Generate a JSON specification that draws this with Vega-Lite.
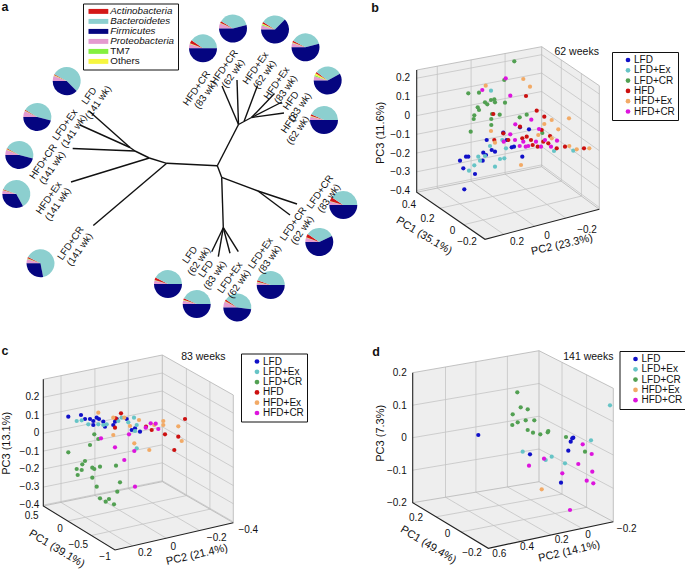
{
  "$schema": "https://vega.github.io/schema/vega-lite/v6.json",
  "width": 685,
  "height": 571,
  "padding": 0,
  "autosize": {"type": "none"},
  "background": "white",
  "config": {
    "view": {"stroke": null},
    "font": "Liberation Sans",
    "text": {"font": "Liberation Sans", "color": "#111111"},
    "legend": {
      "labelFont": "Liberation Sans",
      "labelFontSize": 10,
      "labelColor": "#111111",
      "padding": 3,
      "rowPadding": 0.3,
      "strokeColor": "#111111",
      "symbolStrokeWidth": 0
    }
  },
  "encoding": {
    "x": {"field": "x", "type": "quantitative", "scale": {"domain": [0, 685], "nice": false, "zero": false}, "axis": null},
    "y": {"field": "y", "type": "quantitative", "scale": {"domain": [0, 571], "nice": false, "zero": false, "reverse": true}, "axis": null}
  },
  "layer": [
    {
      "data": {"name": "panes"},
      "mark": {"type": "area", "color": "#eeeeee"},
      "encoding": {"y2": {"field": "y2"}, "detail": {"field": "id"}}
    },
    {
      "data": {"name": "grid"},
      "mark": {"type": "line", "color": "#c4c4c4", "strokeWidth": 0.8},
      "encoding": {"detail": {"field": "id"}, "order": {"field": "o"}}
    },
    {
      "data": {"name": "edges"},
      "mark": {"type": "line", "color": "#b4b4b4", "strokeWidth": 0.8},
      "encoding": {"detail": {"field": "id"}, "order": {"field": "o"}}
    },
    {
      "data": {"name": "axes"},
      "mark": {"type": "line", "color": "#222222", "strokeWidth": 1.1},
      "encoding": {"detail": {"field": "id"}, "order": {"field": "o"}}
    },
    {
      "data": {"name": "tree"},
      "mark": {"type": "rule", "color": "#111111", "strokeWidth": 1.4},
      "encoding": {"x2": {"field": "x2"}, "y2": {"field": "y2"}}
    },
    {
      "data": {"name": "comp"},
      "transform": [
        {"lookup": "pie", "from": {"data": {"name": "pies"}, "key": "pie", "fields": ["x", "y"]}},
        {"lookup": "phylum", "from": {"data": {"name": "phyla"}, "key": "phylum", "fields": ["ord"]}},
        {"stack": "frac", "groupby": ["pie"], "sort": [{"field": "ord", "order": "ascending"}], "offset": "normalize", "as": ["t0", "t1"]}
      ],
      "mark": {"type": "arc", "outerRadius": 14},
      "encoding": {
        "theta": {"field": "t0", "type": "quantitative", "stack": null, "scale": {"domain": [0, 1], "range": [4.712389, 10.995574]}},
        "theta2": {"field": "t1"},
        "color": {
          "field": "phylum",
          "type": "nominal",
          "scale": {
            "domain": ["Actinobacteria", "Bacteroidetes", "Firmicutes", "Proteobacteria", "TM7", "Others"],
            "range": ["#d41818", "#8ccfcf", "#050580", "#e49ad0", "#84f040", "#f6f640"]
          },
          "legend": {
            "orient": "none",
            "legendX": 83,
            "legendY": 3.5,
            "title": null,
            "symbolType": "M-2.2,-0.55H2.2V0.55H-2.2Z",
            "symbolSize": 81,
            "symbolOffset": 7.5,
            "labelOffset": 7,
            "labelFontSize": 9.8,
            "rowPadding": -1.9,
            "labelFontStyle": {"expr": "datum.label == 'TM7' || datum.label == 'Others' ? 'normal' : 'italic'"}
          }
        }
      }
    },
    {
      "data": {"name": "pts"},
      "transform": [{"filter": "datum.p == 'b'"}],
      "mark": {"type": "point", "filled": true, "size": 18, "opacity": 1},
      "encoding": {
        "color": {
          "field": "g",
          "type": "nominal",
          "scale": {"domain": ["LFD", "LFD+Ex", "LFD+CR", "HFD", "HFD+Ex", "HFD+CR"], "range": ["#1010c8", "#66c4c6", "#52a052", "#cc1010", "#f2aa66", "#dd14dd"]},
          "legend": {"orient": "none", "legendX": 612, "legendY": 52, "title": null, "symbolType": "circle", "symbolSize": 22, "symbolOffset": 8, "labelOffset": 1}
        }
      }
    },
    {
      "data": {"name": "pts"},
      "transform": [{"filter": "datum.p == 'c'"}],
      "mark": {"type": "point", "filled": true, "size": 18, "opacity": 1},
      "encoding": {
        "color": {
          "field": "g",
          "type": "nominal",
          "scale": {"domain": ["LFD", "LFD+Ex", "LFD+CR", "HFD", "HFD+Ex", "HFD+CR"], "range": ["#1010c8", "#66c4c6", "#52a052", "#cc1010", "#f2aa66", "#dd14dd"]},
          "legend": {"orient": "none", "legendX": 241, "legendY": 353.5, "title": null, "symbolType": "circle", "symbolSize": 22, "symbolOffset": 8, "labelOffset": 1}
        }
      }
    },
    {
      "data": {"name": "pts"},
      "transform": [{"filter": "datum.p == 'd'"}],
      "mark": {"type": "point", "filled": true, "size": 18, "opacity": 1},
      "encoding": {
        "color": {
          "field": "g",
          "type": "nominal",
          "scale": {"domain": ["LFD", "LFD+Ex", "LFD+CR", "HFD+Ex", "HFD+CR"], "range": ["#1010c8", "#66c4c6", "#52a052", "#f2aa66", "#dd14dd"]},
          "legend": {"orient": "none", "legendX": 619.5, "legendY": 351, "title": null, "symbolType": "circle", "symbolSize": 22, "symbolOffset": 8, "labelOffset": 1}
        }
      }
    },
    {
      "data": {"name": "treelab"},
      "mark": {"type": "text", "angle": 305, "fontSize": 9.8, "lineBreak": "\n", "lineHeight": 11, "align": "center", "baseline": "middle"},
      "encoding": {"text": {"field": "t"}}
    },
    {
      "data": {"name": "txt"},
      "transform": [{"filter": "datum.k == 'zt'"}],
      "mark": {"type": "text", "align": "right", "baseline": "middle", "fontSize": 10},
      "encoding": {"text": {"field": "t"}}
    },
    {
      "data": {"name": "txt"},
      "transform": [{"filter": "datum.k == 'tk'"}],
      "mark": {"type": "text", "align": "center", "baseline": "middle", "fontSize": 10},
      "encoding": {"text": {"field": "t"}}
    },
    {
      "data": {"name": "txt"},
      "transform": [{"filter": "datum.k == 'az'"}],
      "mark": {"type": "text", "align": "center", "baseline": "middle", "fontSize": 11, "angle": 270},
      "encoding": {"text": {"field": "t"}}
    },
    {
      "data": {"name": "txt"},
      "transform": [{"filter": "datum.k == 'a1'"}],
      "mark": {"type": "text", "align": "center", "baseline": "middle", "fontSize": 11, "angle": 31},
      "encoding": {"text": {"field": "t"}}
    },
    {
      "data": {"name": "txt"},
      "transform": [{"filter": "datum.k == 'a2'"}],
      "mark": {"type": "text", "align": "center", "baseline": "middle", "fontSize": 11, "angle": 347},
      "encoding": {"text": {"field": "t"}}
    },
    {
      "data": {"name": "txt"},
      "transform": [{"filter": "datum.k == 'wk'"}],
      "mark": {"type": "text", "align": "center", "baseline": "middle", "fontSize": 10.5},
      "encoding": {"text": {"field": "t"}}
    },
    {
      "data": {"name": "txt"},
      "transform": [{"filter": "datum.k == 'lt'"}],
      "mark": {"type": "text", "align": "center", "baseline": "middle", "fontSize": 12.5, "fontWeight": "bold"},
      "encoding": {"text": {"field": "t"}}
    }
  ],
  "resolve": {"scale": {"color": "independent"}, "legend": {"color": "independent"}},
  "datasets": {
    "panes": [
      {"id": "bL", "x": 416.7, "y": 70, "y2": 192.3}, {"id": "bL", "x": 541.7, "y": 46.7, "y2": 166.7},
      {"id": "bR", "x": 541.7, "y": 46.7, "y2": 166.7}, {"id": "bR", "x": 599.3, "y": 85.7, "y2": 209.3},
      {"id": "bF", "x": 416.7, "y": 192.3, "y2": 192.3}, {"id": "bF", "x": 485, "y": 178.3, "y2": 239.3}, {"id": "bF", "x": 541.7, "y": 166.7, "y2": 224.4}, {"id": "bF", "x": 599.3, "y": 209.3, "y2": 209.3},
      {"id": "cL", "x": 43.3, "y": 379.3, "y2": 506}, {"id": "cL", "x": 162.3, "y": 355, "y2": 481.7},
      {"id": "cR", "x": 162.3, "y": 355, "y2": 481.7}, {"id": "cR", "x": 233.3, "y": 395, "y2": 522.7},
      {"id": "cF", "x": 43.3, "y": 506, "y2": 506}, {"id": "cF", "x": 115, "y": 491.4, "y2": 550}, {"id": "cF", "x": 162.3, "y": 481.7, "y2": 539.1}, {"id": "cF", "x": 233.3, "y": 522.7, "y2": 522.7},
      {"id": "dL", "x": 412.7, "y": 372.7, "y2": 502.7}, {"id": "dL", "x": 539, "y": 350.7, "y2": 481.7},
      {"id": "dR", "x": 539, "y": 350.7, "y2": 481.7}, {"id": "dR", "x": 613.3, "y": 388.3, "y2": 521.7},
      {"id": "dF", "x": 412.7, "y": 502.7, "y2": 502.7}, {"id": "dF", "x": 488.3, "y": 490.1, "y2": 548.3}, {"id": "dF", "x": 539, "y": 481.7, "y2": 537.5}, {"id": "dF", "x": 613.3, "y": 521.7, "y2": 521.7}
    ],
    "grid": [
      {"id": "bz1", "o": 1, "x": 416.7, "y": 78.2}, {"id": "bz1", "o": 2, "x": 541.7, "y": 54.7}, {"id": "bz1", "o": 3, "x": 599.3, "y": 94.0},
      {"id": "bz2", "o": 1, "x": 416.7, "y": 96.9}, {"id": "bz2", "o": 2, "x": 541.7, "y": 73.1}, {"id": "bz2", "o": 3, "x": 599.3, "y": 112.9},
      {"id": "bz3", "o": 1, "x": 416.7, "y": 115.6}, {"id": "bz3", "o": 2, "x": 541.7, "y": 91.5}, {"id": "bz3", "o": 3, "x": 599.3, "y": 131.8},
      {"id": "bz4", "o": 1, "x": 416.7, "y": 134.3}, {"id": "bz4", "o": 2, "x": 541.7, "y": 109.8}, {"id": "bz4", "o": 3, "x": 599.3, "y": 150.7},
      {"id": "bz5", "o": 1, "x": 416.7, "y": 153.0}, {"id": "bz5", "o": 2, "x": 541.7, "y": 128.2}, {"id": "bz5", "o": 3, "x": 599.3, "y": 169.6},
      {"id": "bz6", "o": 1, "x": 416.7, "y": 171.8}, {"id": "bz6", "o": 2, "x": 541.7, "y": 146.5}, {"id": "bz6", "o": 3, "x": 599.3, "y": 188.5},
      {"id": "bz7", "o": 1, "x": 416.7, "y": 190.5}, {"id": "bz7", "o": 2, "x": 541.7, "y": 164.9}, {"id": "bz7", "o": 3, "x": 599.3, "y": 207.4},
      {"id": "bs1", "o": 1, "x": 437.3, "y": 66.2}, {"id": "bs1", "o": 2, "x": 437.3, "y": 188.1}, {"id": "bs1", "o": 3, "x": 503.9, "y": 234.4},
      {"id": "bs2", "o": 1, "x": 471.1, "y": 59.9}, {"id": "bs2", "o": 2, "x": 471.1, "y": 181.2}, {"id": "bs2", "o": 3, "x": 534.7, "y": 226.3},
      {"id": "bs3", "o": 1, "x": 505.1, "y": 53.5}, {"id": "bs3", "o": 2, "x": 505.1, "y": 174.2}, {"id": "bs3", "o": 3, "x": 565.8, "y": 218.1},
      {"id": "bu1", "o": 1, "x": 439.9, "y": 208.3}, {"id": "bu1", "o": 2, "x": 561.3, "y": 181.2}, {"id": "bu1", "o": 3, "x": 561.3, "y": 60.0},
      {"id": "bu2", "o": 1, "x": 463.8, "y": 224.7}, {"id": "bu2", "o": 2, "x": 581.4, "y": 196.1}, {"id": "bu2", "o": 3, "x": 581.4, "y": 73.6},
      {"id": "cz1", "o": 1, "x": 43.3, "y": 397.3}, {"id": "cz1", "o": 2, "x": 162.3, "y": 373.0}, {"id": "cz1", "o": 3, "x": 233.3, "y": 413.1},
      {"id": "cz2", "o": 1, "x": 43.3, "y": 415.3}, {"id": "cz2", "o": 2, "x": 162.3, "y": 391.0}, {"id": "cz2", "o": 3, "x": 233.3, "y": 431.3},
      {"id": "cz3", "o": 1, "x": 43.3, "y": 433.3}, {"id": "cz3", "o": 2, "x": 162.3, "y": 409.0}, {"id": "cz3", "o": 3, "x": 233.3, "y": 449.4},
      {"id": "cz4", "o": 1, "x": 43.3, "y": 451.1}, {"id": "cz4", "o": 2, "x": 162.3, "y": 426.8}, {"id": "cz4", "o": 3, "x": 233.3, "y": 467.4},
      {"id": "cz5", "o": 1, "x": 43.3, "y": 469.1}, {"id": "cz5", "o": 2, "x": 162.3, "y": 444.8}, {"id": "cz5", "o": 3, "x": 233.3, "y": 485.5},
      {"id": "cz6", "o": 1, "x": 43.3, "y": 487.1}, {"id": "cz6", "o": 2, "x": 162.3, "y": 462.8}, {"id": "cz6", "o": 3, "x": 233.3, "y": 503.7},
      {"id": "cz7", "o": 1, "x": 43.3, "y": 505.1}, {"id": "cz7", "o": 2, "x": 162.3, "y": 480.8}, {"id": "cz7", "o": 3, "x": 233.3, "y": 521.8},
      {"id": "cs1", "o": 1, "x": 61.0, "y": 375.7}, {"id": "cs1", "o": 2, "x": 61.0, "y": 502.4}, {"id": "cs1", "o": 3, "x": 132.6, "y": 545.9},
      {"id": "cs2", "o": 1, "x": 94.9, "y": 368.8}, {"id": "cs2", "o": 2, "x": 94.9, "y": 495.5}, {"id": "cs2", "o": 3, "x": 166.3, "y": 538.2},
      {"id": "cs3", "o": 1, "x": 128.3, "y": 362.0}, {"id": "cs3", "o": 2, "x": 128.3, "y": 488.7}, {"id": "cs3", "o": 3, "x": 199.5, "y": 530.5},
      {"id": "cu1", "o": 1, "x": 67.7, "y": 521.0}, {"id": "cu1", "o": 2, "x": 186.4, "y": 495.6}, {"id": "cu1", "o": 3, "x": 186.4, "y": 368.6},
      {"id": "cu2", "o": 1, "x": 91.3, "y": 535.5}, {"id": "cu2", "o": 2, "x": 209.9, "y": 509.2}, {"id": "cu2", "o": 3, "x": 209.9, "y": 381.8},
      {"id": "dz1", "o": 1, "x": 412.7, "y": 405.2}, {"id": "dz1", "o": 2, "x": 539, "y": 383.5}, {"id": "dz1", "o": 3, "x": 613.3, "y": 421.6},
      {"id": "dz2", "o": 1, "x": 412.7, "y": 437.7}, {"id": "dz2", "o": 2, "x": 539, "y": 416.2}, {"id": "dz2", "o": 3, "x": 613.3, "y": 455.0},
      {"id": "dz3", "o": 1, "x": 412.7, "y": 470.2}, {"id": "dz3", "o": 2, "x": 539, "y": 449.0}, {"id": "dz3", "o": 3, "x": 613.3, "y": 488.3},
      {"id": "ds1", "o": 1, "x": 445.5, "y": 367.0}, {"id": "ds1", "o": 2, "x": 445.5, "y": 497.2}, {"id": "ds1", "o": 3, "x": 520.8, "y": 541.4},
      {"id": "ds2", "o": 1, "x": 475.9, "y": 361.7}, {"id": "ds2", "o": 2, "x": 475.9, "y": 492.2}, {"id": "ds2", "o": 3, "x": 550.8, "y": 535.0},
      {"id": "ds3", "o": 1, "x": 507.4, "y": 356.2}, {"id": "ds3", "o": 2, "x": 507.4, "y": 486.9}, {"id": "ds3", "o": 3, "x": 582.1, "y": 528.4},
      {"id": "du1", "o": 1, "x": 436.1, "y": 516.8}, {"id": "du1", "o": 2, "x": 562.0, "y": 494.1}, {"id": "du1", "o": 3, "x": 562.0, "y": 362.4},
      {"id": "du2", "o": 1, "x": 461.1, "y": 531.9}, {"id": "du2", "o": 2, "x": 586.6, "y": 507.3}, {"id": "du2", "o": 3, "x": 586.6, "y": 374.8}
    ],
    "edges": [
      {"id": "b1", "o": 1, "x": 416.7, "y": 70}, {"id": "b1", "o": 2, "x": 541.7, "y": 46.7}, {"id": "b1", "o": 3, "x": 599.3, "y": 85.7}, {"id": "b1", "o": 4, "x": 599.3, "y": 209.3},
      {"id": "b2", "o": 1, "x": 541.7, "y": 46.7}, {"id": "b2", "o": 2, "x": 541.7, "y": 166.7}, {"id": "b2", "o": 3, "x": 599.3, "y": 209.3},
      {"id": "b3", "o": 1, "x": 416.7, "y": 192.3}, {"id": "b3", "o": 2, "x": 541.7, "y": 166.7},
      {"id": "c1", "o": 1, "x": 43.3, "y": 379.3}, {"id": "c1", "o": 2, "x": 162.3, "y": 355}, {"id": "c1", "o": 3, "x": 233.3, "y": 395}, {"id": "c1", "o": 4, "x": 233.3, "y": 522.7},
      {"id": "c2", "o": 1, "x": 162.3, "y": 355}, {"id": "c2", "o": 2, "x": 162.3, "y": 481.7}, {"id": "c2", "o": 3, "x": 233.3, "y": 522.7},
      {"id": "c3", "o": 1, "x": 43.3, "y": 506}, {"id": "c3", "o": 2, "x": 162.3, "y": 481.7},
      {"id": "d1", "o": 1, "x": 412.7, "y": 372.7}, {"id": "d1", "o": 2, "x": 539, "y": 350.7}, {"id": "d1", "o": 3, "x": 613.3, "y": 388.3}, {"id": "d1", "o": 4, "x": 613.3, "y": 521.7},
      {"id": "d2", "o": 1, "x": 539, "y": 350.7}, {"id": "d2", "o": 2, "x": 539, "y": 481.7}, {"id": "d2", "o": 3, "x": 613.3, "y": 521.7},
      {"id": "d3", "o": 1, "x": 412.7, "y": 502.7}, {"id": "d3", "o": 2, "x": 539, "y": 481.7}
    ],
    "axes": [
      {"id": "b", "o": 1, "x": 416.7, "y": 70}, {"id": "b", "o": 2, "x": 416.7, "y": 192.3}, {"id": "b", "o": 3, "x": 485, "y": 239.3}, {"id": "b", "o": 4, "x": 599.3, "y": 209.3},
      {"id": "c", "o": 1, "x": 43.3, "y": 379.3}, {"id": "c", "o": 2, "x": 43.3, "y": 506}, {"id": "c", "o": 3, "x": 115, "y": 550}, {"id": "c", "o": 4, "x": 233.3, "y": 522.7},
      {"id": "d", "o": 1, "x": 412.7, "y": 372.7}, {"id": "d", "o": 2, "x": 412.7, "y": 502.7}, {"id": "d", "o": 3, "x": 488.3, "y": 548.3}, {"id": "d", "o": 4, "x": 613.3, "y": 521.7}
    ],
    "tree": [
      {"x": 166.7, "y": 163.3, "x2": 217.3, "y2": 165.7},
      {"x": 166.7, "y": 163.3, "x2": 93.3, "y2": 225.5},
      {"x": 166.7, "y": 163.3, "x2": 149.3, "y2": 158},
      {"x": 149.3, "y": 158, "x2": 71, "y2": 182},
      {"x": 149.3, "y": 158, "x2": 135, "y2": 151},
      {"x": 135, "y": 151, "x2": 72.7, "y2": 148.5},
      {"x": 135, "y": 151, "x2": 130, "y2": 147.5},
      {"x": 130, "y": 147.5, "x2": 80, "y2": 125},
      {"x": 130, "y": 147.5, "x2": 89, "y2": 111},
      {"x": 217.3, "y": 165.7, "x2": 238.5, "y2": 124.5},
      {"x": 238.5, "y": 124.5, "x2": 222, "y2": 86},
      {"x": 238.5, "y": 124.5, "x2": 237, "y2": 80},
      {"x": 238.5, "y": 124.5, "x2": 244, "y2": 121.5},
      {"x": 244, "y": 121.5, "x2": 257.5, "y2": 85.5},
      {"x": 244, "y": 121.5, "x2": 251.5, "y2": 117.5},
      {"x": 251.5, "y": 117.5, "x2": 274.5, "y2": 93.5},
      {"x": 251.5, "y": 117.5, "x2": 282, "y2": 102},
      {"x": 251.5, "y": 117.5, "x2": 284, "y2": 113},
      {"x": 217.3, "y": 165.7, "x2": 221.7, "y2": 177.3},
      {"x": 221.7, "y": 177.3, "x2": 258, "y2": 191},
      {"x": 258, "y": 191, "x2": 297, "y2": 204},
      {"x": 258, "y": 191, "x2": 290, "y2": 215},
      {"x": 221.7, "y": 177.3, "x2": 223.3, "y2": 227.7},
      {"x": 223.3, "y": 227.7, "x2": 211.7, "y2": 251.7},
      {"x": 223.3, "y": 227.7, "x2": 218.3, "y2": 256.7},
      {"x": 223.3, "y": 227.7, "x2": 230, "y2": 253.3},
      {"x": 223.3, "y": 227.7, "x2": 238.3, "y2": 251.7}
    ],
    "pies": [
      {"pie": "LFD 141", "x": 66.7, "y": 81},
      {"pie": "LFD+Ex 141", "x": 37.3, "y": 117},
      {"pie": "HFD+CR 141", "x": 19.3, "y": 155},
      {"pie": "HFD+Ex 141", "x": 16.3, "y": 194},
      {"pie": "LFD+CR 141", "x": 40.5, "y": 263.3},
      {"pie": "HFD+CR 83", "x": 203, "y": 48.3},
      {"pie": "HFD+CR 62", "x": 233, "y": 28.5},
      {"pie": "HFD+Ex 62", "x": 275, "y": 29.5},
      {"pie": "HFD+Ex 83", "x": 305.5, "y": 47.3},
      {"pie": "HFD 83", "x": 327.7, "y": 80.5},
      {"pie": "HFD 62", "x": 324, "y": 120},
      {"pie": "LFD+CR 83", "x": 343.3, "y": 205},
      {"pie": "LFD+CR 62", "x": 319.3, "y": 242},
      {"pie": "LFD 62", "x": 168, "y": 284},
      {"pie": "LFD 83", "x": 196.7, "y": 304},
      {"pie": "LFD+Ex 62", "x": 237.3, "y": 307.5},
      {"pie": "LFD+Ex 83", "x": 270.7, "y": 285}
    ],
    "phyla": [
      {"phylum": "Proteobacteria", "ord": 1},
      {"phylum": "TM7", "ord": 2},
      {"phylum": "Others", "ord": 3},
      {"phylum": "Actinobacteria", "ord": 4},
      {"phylum": "Bacteroidetes", "ord": 5},
      {"phylum": "Firmicutes", "ord": 6}
    ],
    "comp": [
      {"pie": "LFD 141", "phylum": "Proteobacteria", "frac": 0.06}, {"pie": "LFD 141", "phylum": "TM7", "frac": 0.005}, {"pie": "LFD 141", "phylum": "Others", "frac": 0.005}, {"pie": "LFD 141", "phylum": "Actinobacteria", "frac": 0.01}, {"pie": "LFD 141", "phylum": "Bacteroidetes", "frac": 0.545}, {"pie": "LFD 141", "phylum": "Firmicutes", "frac": 0.375},
      {"pie": "LFD+Ex 141", "phylum": "Proteobacteria", "frac": 0.07}, {"pie": "LFD+Ex 141", "phylum": "TM7", "frac": 0.003}, {"pie": "LFD+Ex 141", "phylum": "Others", "frac": 0.003}, {"pie": "LFD+Ex 141", "phylum": "Actinobacteria", "frac": 0.01}, {"pie": "LFD+Ex 141", "phylum": "Bacteroidetes", "frac": 0.454}, {"pie": "LFD+Ex 141", "phylum": "Firmicutes", "frac": 0.46},
      {"pie": "HFD+CR 141", "phylum": "Proteobacteria", "frac": 0.06}, {"pie": "HFD+CR 141", "phylum": "TM7", "frac": 0.005}, {"pie": "HFD+CR 141", "phylum": "Others", "frac": 0.005}, {"pie": "HFD+CR 141", "phylum": "Actinobacteria", "frac": 0.01}, {"pie": "HFD+CR 141", "phylum": "Bacteroidetes", "frac": 0.46}, {"pie": "HFD+CR 141", "phylum": "Firmicutes", "frac": 0.46},
      {"pie": "HFD+Ex 141", "phylum": "Proteobacteria", "frac": 0.04}, {"pie": "HFD+Ex 141", "phylum": "TM7", "frac": 0.003}, {"pie": "HFD+Ex 141", "phylum": "Others", "frac": 0.003}, {"pie": "HFD+Ex 141", "phylum": "Actinobacteria", "frac": 0.01}, {"pie": "HFD+Ex 141", "phylum": "Bacteroidetes", "frac": 0.614}, {"pie": "HFD+Ex 141", "phylum": "Firmicutes", "frac": 0.33},
      {"pie": "LFD+CR 141", "phylum": "Proteobacteria", "frac": 0.05}, {"pie": "LFD+CR 141", "phylum": "TM7", "frac": 0.005}, {"pie": "LFD+CR 141", "phylum": "Others", "frac": 0.005}, {"pie": "LFD+CR 141", "phylum": "Actinobacteria", "frac": 0.015}, {"pie": "LFD+CR 141", "phylum": "Bacteroidetes", "frac": 0.645}, {"pie": "LFD+CR 141", "phylum": "Firmicutes", "frac": 0.28},
      {"pie": "HFD+CR 83", "phylum": "Proteobacteria", "frac": 0.05}, {"pie": "HFD+CR 83", "phylum": "TM7", "frac": 0.003}, {"pie": "HFD+CR 83", "phylum": "Others", "frac": 0.005}, {"pie": "HFD+CR 83", "phylum": "Actinobacteria", "frac": 0.04}, {"pie": "HFD+CR 83", "phylum": "Bacteroidetes", "frac": 0.402}, {"pie": "HFD+CR 83", "phylum": "Firmicutes", "frac": 0.5},
      {"pie": "HFD+CR 62", "phylum": "Proteobacteria", "frac": 0.06}, {"pie": "HFD+CR 62", "phylum": "TM7", "frac": 0.003}, {"pie": "HFD+CR 62", "phylum": "Others", "frac": 0.005}, {"pie": "HFD+CR 62", "phylum": "Actinobacteria", "frac": 0.02}, {"pie": "HFD+CR 62", "phylum": "Bacteroidetes", "frac": 0.372}, {"pie": "HFD+CR 62", "phylum": "Firmicutes", "frac": 0.54},
      {"pie": "HFD+Ex 62", "phylum": "Proteobacteria", "frac": 0.05}, {"pie": "HFD+Ex 62", "phylum": "TM7", "frac": 0.01}, {"pie": "HFD+Ex 62", "phylum": "Others", "frac": 0.01}, {"pie": "HFD+Ex 62", "phylum": "Actinobacteria", "frac": 0.02}, {"pie": "HFD+Ex 62", "phylum": "Bacteroidetes", "frac": 0.285}, {"pie": "HFD+Ex 62", "phylum": "Firmicutes", "frac": 0.625},
      {"pie": "HFD+Ex 83", "phylum": "Proteobacteria", "frac": 0.05}, {"pie": "HFD+Ex 83", "phylum": "TM7", "frac": 0.003}, {"pie": "HFD+Ex 83", "phylum": "Others", "frac": 0.005}, {"pie": "HFD+Ex 83", "phylum": "Actinobacteria", "frac": 0.02}, {"pie": "HFD+Ex 83", "phylum": "Bacteroidetes", "frac": 0.382}, {"pie": "HFD+Ex 83", "phylum": "Firmicutes", "frac": 0.54},
      {"pie": "HFD 83", "phylum": "Proteobacteria", "frac": 0.05}, {"pie": "HFD 83", "phylum": "TM7", "frac": 0.015}, {"pie": "HFD 83", "phylum": "Others", "frac": 0.02}, {"pie": "HFD 83", "phylum": "Actinobacteria", "frac": 0.02}, {"pie": "HFD 83", "phylum": "Bacteroidetes", "frac": 0.315}, {"pie": "HFD 83", "phylum": "Firmicutes", "frac": 0.58},
      {"pie": "HFD 62", "phylum": "Proteobacteria", "frac": 0.04}, {"pie": "HFD 62", "phylum": "TM7", "frac": 0.003}, {"pie": "HFD 62", "phylum": "Others", "frac": 0.005}, {"pie": "HFD 62", "phylum": "Actinobacteria", "frac": 0.02}, {"pie": "HFD 62", "phylum": "Bacteroidetes", "frac": 0.432}, {"pie": "HFD 62", "phylum": "Firmicutes", "frac": 0.5},
      {"pie": "LFD+CR 83", "phylum": "Proteobacteria", "frac": 0.04}, {"pie": "LFD+CR 83", "phylum": "TM7", "frac": 0.002}, {"pie": "LFD+CR 83", "phylum": "Others", "frac": 0.003}, {"pie": "LFD+CR 83", "phylum": "Actinobacteria", "frac": 0.05}, {"pie": "LFD+CR 83", "phylum": "Bacteroidetes", "frac": 0.405}, {"pie": "LFD+CR 83", "phylum": "Firmicutes", "frac": 0.5},
      {"pie": "LFD+CR 62", "phylum": "Proteobacteria", "frac": 0.05}, {"pie": "LFD+CR 62", "phylum": "TM7", "frac": 0.003}, {"pie": "LFD+CR 62", "phylum": "Others", "frac": 0.003}, {"pie": "LFD+CR 62", "phylum": "Actinobacteria", "frac": 0.04}, {"pie": "LFD+CR 62", "phylum": "Bacteroidetes", "frac": 0.334}, {"pie": "LFD+CR 62", "phylum": "Firmicutes", "frac": 0.57},
      {"pie": "LFD 62", "phylum": "Proteobacteria", "frac": 0.04}, {"pie": "LFD 62", "phylum": "TM7", "frac": 0.003}, {"pie": "LFD 62", "phylum": "Others", "frac": 0.003}, {"pie": "LFD 62", "phylum": "Actinobacteria", "frac": 0.03}, {"pie": "LFD 62", "phylum": "Bacteroidetes", "frac": 0.424}, {"pie": "LFD 62", "phylum": "Firmicutes", "frac": 0.5},
      {"pie": "LFD 83", "phylum": "Proteobacteria", "frac": 0.04}, {"pie": "LFD 83", "phylum": "TM7", "frac": 0.003}, {"pie": "LFD 83", "phylum": "Others", "frac": 0.005}, {"pie": "LFD 83", "phylum": "Actinobacteria", "frac": 0.02}, {"pie": "LFD 83", "phylum": "Bacteroidetes", "frac": 0.432}, {"pie": "LFD 83", "phylum": "Firmicutes", "frac": 0.5},
      {"pie": "LFD+Ex 62", "phylum": "Proteobacteria", "frac": 0.07}, {"pie": "LFD+Ex 62", "phylum": "TM7", "frac": 0.003}, {"pie": "LFD+Ex 62", "phylum": "Others", "frac": 0.005}, {"pie": "LFD+Ex 62", "phylum": "Actinobacteria", "frac": 0.02}, {"pie": "LFD+Ex 62", "phylum": "Bacteroidetes", "frac": 0.422}, {"pie": "LFD+Ex 62", "phylum": "Firmicutes", "frac": 0.48},
      {"pie": "LFD+Ex 83", "phylum": "Proteobacteria", "frac": 0.03}, {"pie": "LFD+Ex 83", "phylum": "TM7", "frac": 0.003}, {"pie": "LFD+Ex 83", "phylum": "Others", "frac": 0.003}, {"pie": "LFD+Ex 83", "phylum": "Actinobacteria", "frac": 0.02}, {"pie": "LFD+Ex 83", "phylum": "Bacteroidetes", "frac": 0.444}, {"pie": "LFD+Ex 83", "phylum": "Firmicutes", "frac": 0.5}
    ],
    "pts": [
      {"p": "b", "g": "LFD", "x": 464.3, "y": 189.3}, {"p": "b", "g": "LFD", "x": 463.3, "y": 168.3}, {"p": "b", "g": "LFD", "x": 475, "y": 174}, {"p": "b", "g": "LFD", "x": 460, "y": 160.7}, {"p": "b", "g": "LFD", "x": 466, "y": 156.7}, {"p": "b", "g": "LFD", "x": 468.3, "y": 156.7}, {"p": "b", "g": "LFD", "x": 486.7, "y": 140}, {"p": "b", "g": "LFD", "x": 483.3, "y": 152.7}, {"p": "b", "g": "LFD", "x": 486, "y": 155}, {"p": "b", "g": "LFD", "x": 491.7, "y": 150}, {"p": "b", "g": "LFD", "x": 482.7, "y": 160.7}, {"p": "b", "g": "LFD", "x": 503.3, "y": 132.7}, {"p": "b", "g": "LFD", "x": 506.7, "y": 140}, {"p": "b", "g": "LFD", "x": 511.7, "y": 147.3}, {"p": "b", "g": "LFD", "x": 514, "y": 146.7}, {"p": "b", "g": "LFD", "x": 520, "y": 127.3}, {"p": "b", "g": "LFD", "x": 522.3, "y": 156.7}, {"p": "b", "g": "LFD", "x": 529, "y": 129.3}, {"p": "b", "g": "LFD", "x": 495, "y": 151.7},
      {"p": "b", "g": "LFD+Ex", "x": 491, "y": 90.7}, {"p": "b", "g": "LFD+Ex", "x": 469, "y": 170.7}, {"p": "b", "g": "LFD+Ex", "x": 474.3, "y": 165.3}, {"p": "b", "g": "LFD+Ex", "x": 478.3, "y": 156.7}, {"p": "b", "g": "LFD+Ex", "x": 490, "y": 146}, {"p": "b", "g": "LFD+Ex", "x": 495, "y": 166.7}, {"p": "b", "g": "LFD+Ex", "x": 500, "y": 159}, {"p": "b", "g": "LFD+Ex", "x": 504.3, "y": 158.3}, {"p": "b", "g": "LFD+Ex", "x": 506, "y": 148.3}, {"p": "b", "g": "LFD+Ex", "x": 502.3, "y": 140}, {"p": "b", "g": "LFD+Ex", "x": 554, "y": 151}, {"p": "b", "g": "LFD+Ex", "x": 480, "y": 160.7}, {"p": "b", "g": "LFD+Ex", "x": 485, "y": 156}, {"p": "b", "g": "LFD+Ex", "x": 573.3, "y": 150.7},
      {"p": "b", "g": "LFD+CR", "x": 514.3, "y": 61.3}, {"p": "b", "g": "LFD+CR", "x": 504.3, "y": 80}, {"p": "b", "g": "LFD+CR", "x": 468.3, "y": 93.3}, {"p": "b", "g": "LFD+CR", "x": 479, "y": 92.7}, {"p": "b", "g": "LFD+CR", "x": 485, "y": 102.3}, {"p": "b", "g": "LFD+CR", "x": 487.3, "y": 104.3}, {"p": "b", "g": "LFD+CR", "x": 491, "y": 100}, {"p": "b", "g": "LFD+CR", "x": 494.3, "y": 99.3}, {"p": "b", "g": "LFD+CR", "x": 495, "y": 102.3}, {"p": "b", "g": "LFD+CR", "x": 505, "y": 102.7}, {"p": "b", "g": "LFD+CR", "x": 477.7, "y": 107.3}, {"p": "b", "g": "LFD+CR", "x": 479, "y": 110}, {"p": "b", "g": "LFD+CR", "x": 474.3, "y": 115.3}, {"p": "b", "g": "LFD+CR", "x": 473.7, "y": 119}, {"p": "b", "g": "LFD+CR", "x": 492, "y": 114}, {"p": "b", "g": "LFD+CR", "x": 491.3, "y": 119}, {"p": "b", "g": "LFD+CR", "x": 499.7, "y": 114.7}, {"p": "b", "g": "LFD+CR", "x": 519.7, "y": 117.3}, {"p": "b", "g": "LFD+CR", "x": 526.7, "y": 114.7}, {"p": "b", "g": "LFD+CR", "x": 470.7, "y": 131.7}, {"p": "b", "g": "LFD+CR", "x": 491.3, "y": 125}, {"p": "b", "g": "LFD+CR", "x": 542.3, "y": 133},
      {"p": "b", "g": "HFD", "x": 526, "y": 96}, {"p": "b", "g": "HFD", "x": 493.3, "y": 114}, {"p": "b", "g": "HFD", "x": 536.7, "y": 110.7}, {"p": "b", "g": "HFD", "x": 544.3, "y": 116.7}, {"p": "b", "g": "HFD", "x": 520, "y": 126.7}, {"p": "b", "g": "HFD", "x": 503.3, "y": 133.3}, {"p": "b", "g": "HFD", "x": 541.7, "y": 130}, {"p": "b", "g": "HFD", "x": 522.3, "y": 138.3}, {"p": "b", "g": "HFD", "x": 526.7, "y": 136.7}, {"p": "b", "g": "HFD", "x": 531, "y": 140}, {"p": "b", "g": "HFD", "x": 532.7, "y": 145}, {"p": "b", "g": "HFD", "x": 537.7, "y": 146.7}, {"p": "b", "g": "HFD", "x": 543.3, "y": 141.7}, {"p": "b", "g": "HFD", "x": 548.3, "y": 143.3}, {"p": "b", "g": "HFD", "x": 550, "y": 136}, {"p": "b", "g": "HFD", "x": 556.7, "y": 148.3}, {"p": "b", "g": "HFD", "x": 565, "y": 146.7}, {"p": "b", "g": "HFD", "x": 584, "y": 148.3}, {"p": "b", "g": "HFD", "x": 494.3, "y": 140}, {"p": "b", "g": "HFD", "x": 508.3, "y": 140},
      {"p": "b", "g": "HFD+Ex", "x": 485.7, "y": 85.7}, {"p": "b", "g": "HFD+Ex", "x": 523.3, "y": 79}, {"p": "b", "g": "HFD+Ex", "x": 530, "y": 86.7}, {"p": "b", "g": "HFD+Ex", "x": 491, "y": 131}, {"p": "b", "g": "HFD+Ex", "x": 495, "y": 142.7}, {"p": "b", "g": "HFD+Ex", "x": 544.3, "y": 124}, {"p": "b", "g": "HFD+Ex", "x": 551.7, "y": 120}, {"p": "b", "g": "HFD+Ex", "x": 558.3, "y": 129.3}, {"p": "b", "g": "HFD+Ex", "x": 569, "y": 118.3}, {"p": "b", "g": "HFD+Ex", "x": 521, "y": 165}, {"p": "b", "g": "HFD+Ex", "x": 569.3, "y": 146}, {"p": "b", "g": "HFD+Ex", "x": 576.7, "y": 149.3}, {"p": "b", "g": "HFD+Ex", "x": 589.3, "y": 148.3}, {"p": "b", "g": "HFD+Ex", "x": 538.3, "y": 135}, {"p": "b", "g": "HFD+Ex", "x": 551.7, "y": 138.3},
      {"p": "b", "g": "HFD+CR", "x": 505.7, "y": 78.3}, {"p": "b", "g": "HFD+CR", "x": 482.3, "y": 90}, {"p": "b", "g": "HFD+CR", "x": 510.3, "y": 95.7}, {"p": "b", "g": "HFD+CR", "x": 515.3, "y": 124.3}, {"p": "b", "g": "HFD+CR", "x": 531.3, "y": 119.7}, {"p": "b", "g": "HFD+CR", "x": 539, "y": 129}, {"p": "b", "g": "HFD+CR", "x": 510.3, "y": 134.3}, {"p": "b", "g": "HFD+CR", "x": 515, "y": 140}, {"p": "b", "g": "HFD+CR", "x": 519.7, "y": 146}, {"p": "b", "g": "HFD+CR", "x": 523.3, "y": 141.7}, {"p": "b", "g": "HFD+CR", "x": 528.3, "y": 146}, {"p": "b", "g": "HFD+CR", "x": 536, "y": 141.7}, {"p": "b", "g": "HFD+CR", "x": 541, "y": 146.7}, {"p": "b", "g": "HFD+CR", "x": 545, "y": 140}, {"p": "b", "g": "HFD+CR", "x": 551, "y": 146.7}, {"p": "b", "g": "HFD+CR", "x": 557, "y": 140.7}, {"p": "b", "g": "HFD+CR", "x": 503.7, "y": 141.7}, {"p": "b", "g": "HFD+CR", "x": 525.7, "y": 146.7},
      {"p": "c", "g": "LFD", "x": 68.3, "y": 416.7}, {"p": "c", "g": "LFD", "x": 81, "y": 415}, {"p": "c", "g": "LFD", "x": 85, "y": 419}, {"p": "c", "g": "LFD", "x": 90, "y": 419}, {"p": "c", "g": "LFD", "x": 93.3, "y": 421}, {"p": "c", "g": "LFD", "x": 96.7, "y": 417.7}, {"p": "c", "g": "LFD", "x": 99, "y": 419}, {"p": "c", "g": "LFD", "x": 103.3, "y": 421.7}, {"p": "c", "g": "LFD", "x": 93.3, "y": 425}, {"p": "c", "g": "LFD", "x": 105, "y": 426.7}, {"p": "c", "g": "LFD", "x": 113.3, "y": 425}, {"p": "c", "g": "LFD", "x": 115, "y": 421.7}, {"p": "c", "g": "LFD", "x": 116.7, "y": 419}, {"p": "c", "g": "LFD", "x": 126.7, "y": 419}, {"p": "c", "g": "LFD", "x": 131.7, "y": 430}, {"p": "c", "g": "LFD", "x": 135, "y": 428.3}, {"p": "c", "g": "LFD", "x": 140, "y": 431.7},
      {"p": "c", "g": "LFD+Ex", "x": 76.7, "y": 421}, {"p": "c", "g": "LFD+Ex", "x": 81.7, "y": 420.3}, {"p": "c", "g": "LFD+Ex", "x": 88.3, "y": 424.3}, {"p": "c", "g": "LFD+Ex", "x": 103.3, "y": 425}, {"p": "c", "g": "LFD+Ex", "x": 106.7, "y": 424.3}, {"p": "c", "g": "LFD+Ex", "x": 118.3, "y": 421}, {"p": "c", "g": "LFD+Ex", "x": 121.7, "y": 417.7}, {"p": "c", "g": "LFD+Ex", "x": 128.3, "y": 422.3}, {"p": "c", "g": "LFD+Ex", "x": 134, "y": 417.7}, {"p": "c", "g": "LFD+Ex", "x": 136.7, "y": 425}, {"p": "c", "g": "LFD+Ex", "x": 135, "y": 431}, {"p": "c", "g": "LFD+Ex", "x": 136.7, "y": 448.3}, {"p": "c", "g": "LFD+Ex", "x": 98.3, "y": 424.3},
      {"p": "c", "g": "LFD+CR", "x": 68.3, "y": 452.3}, {"p": "c", "g": "LFD+CR", "x": 94.3, "y": 434.3}, {"p": "c", "g": "LFD+CR", "x": 98.3, "y": 439}, {"p": "c", "g": "LFD+CR", "x": 90, "y": 445}, {"p": "c", "g": "LFD+CR", "x": 85, "y": 461}, {"p": "c", "g": "LFD+CR", "x": 82.3, "y": 464.3}, {"p": "c", "g": "LFD+CR", "x": 76.7, "y": 469}, {"p": "c", "g": "LFD+CR", "x": 81.7, "y": 470}, {"p": "c", "g": "LFD+CR", "x": 77.7, "y": 475}, {"p": "c", "g": "LFD+CR", "x": 92.3, "y": 467.7}, {"p": "c", "g": "LFD+CR", "x": 94.3, "y": 469}, {"p": "c", "g": "LFD+CR", "x": 100, "y": 466.7}, {"p": "c", "g": "LFD+CR", "x": 92.3, "y": 477.7}, {"p": "c", "g": "LFD+CR", "x": 116, "y": 465.7}, {"p": "c", "g": "LFD+CR", "x": 96.7, "y": 486.7}, {"p": "c", "g": "LFD+CR", "x": 120, "y": 482.3}, {"p": "c", "g": "LFD+CR", "x": 117.3, "y": 491.7}, {"p": "c", "g": "LFD+CR", "x": 100, "y": 498.3}, {"p": "c", "g": "LFD+CR", "x": 105.7, "y": 501.7}, {"p": "c", "g": "LFD+CR", "x": 109, "y": 499}, {"p": "c", "g": "LFD+CR", "x": 114, "y": 504.3},
      {"p": "c", "g": "HFD", "x": 115.7, "y": 418.3}, {"p": "c", "g": "HFD", "x": 121, "y": 413.3}, {"p": "c", "g": "HFD", "x": 115, "y": 427.7}, {"p": "c", "g": "HFD", "x": 146, "y": 426.7}, {"p": "c", "g": "HFD", "x": 151.7, "y": 430}, {"p": "c", "g": "HFD", "x": 165, "y": 434.3}, {"p": "c", "g": "HFD", "x": 178.3, "y": 436.7}, {"p": "c", "g": "HFD", "x": 174.3, "y": 450}, {"p": "c", "g": "HFD", "x": 185, "y": 419},
      {"p": "c", "g": "HFD+Ex", "x": 98.3, "y": 412.7}, {"p": "c", "g": "HFD+Ex", "x": 113.3, "y": 417.7}, {"p": "c", "g": "HFD+Ex", "x": 124.3, "y": 417.7}, {"p": "c", "g": "HFD+Ex", "x": 130, "y": 426}, {"p": "c", "g": "HFD+Ex", "x": 139, "y": 420}, {"p": "c", "g": "HFD+Ex", "x": 154.3, "y": 425}, {"p": "c", "g": "HFD+Ex", "x": 163.3, "y": 425}, {"p": "c", "g": "HFD+Ex", "x": 163.3, "y": 421}, {"p": "c", "g": "HFD+Ex", "x": 178.3, "y": 426.3}, {"p": "c", "g": "HFD+Ex", "x": 181.7, "y": 441}, {"p": "c", "g": "HFD+Ex", "x": 149.3, "y": 450}, {"p": "c", "g": "HFD+Ex", "x": 134.3, "y": 443.3}, {"p": "c", "g": "HFD+Ex", "x": 113.3, "y": 435},
      {"p": "c", "g": "HFD+CR", "x": 101, "y": 438.3}, {"p": "c", "g": "HFD+CR", "x": 115, "y": 447.3}, {"p": "c", "g": "HFD+CR", "x": 124.3, "y": 460}, {"p": "c", "g": "HFD+CR", "x": 134.3, "y": 451}, {"p": "c", "g": "HFD+CR", "x": 135, "y": 486.7}, {"p": "c", "g": "HFD+CR", "x": 129, "y": 434.3}, {"p": "c", "g": "HFD+CR", "x": 145.7, "y": 427.7}, {"p": "c", "g": "HFD+CR", "x": 150.7, "y": 423.3}, {"p": "c", "g": "HFD+CR", "x": 155.7, "y": 423.7}, {"p": "c", "g": "HFD+CR", "x": 158.3, "y": 429},
      {"p": "d", "g": "LFD", "x": 478.3, "y": 435}, {"p": "d", "g": "LFD", "x": 530, "y": 454.3}, {"p": "d", "g": "LFD", "x": 561, "y": 482.7}, {"p": "d", "g": "LFD", "x": 568.3, "y": 450.7}, {"p": "d", "g": "LFD", "x": 570.7, "y": 441.7}, {"p": "d", "g": "LFD", "x": 572.3, "y": 438.3}, {"p": "d", "g": "LFD", "x": 573.3, "y": 437.7},
      {"p": "d", "g": "LFD+Ex", "x": 610, "y": 405.3}, {"p": "d", "g": "LFD+Ex", "x": 522.7, "y": 451.7}, {"p": "d", "g": "LFD+Ex", "x": 545.7, "y": 460}, {"p": "d", "g": "LFD+Ex", "x": 551.7, "y": 456.7}, {"p": "d", "g": "LFD+Ex", "x": 565, "y": 463.3}, {"p": "d", "g": "LFD+Ex", "x": 591, "y": 440.3},
      {"p": "d", "g": "LFD+CR", "x": 517.3, "y": 392.3}, {"p": "d", "g": "LFD+CR", "x": 520.7, "y": 407.3}, {"p": "d", "g": "LFD+CR", "x": 527.7, "y": 409.3}, {"p": "d", "g": "LFD+CR", "x": 512.7, "y": 414.3}, {"p": "d", "g": "LFD+CR", "x": 517.7, "y": 422.3}, {"p": "d", "g": "LFD+CR", "x": 512.3, "y": 425}, {"p": "d", "g": "LFD+CR", "x": 525.7, "y": 420.3}, {"p": "d", "g": "LFD+CR", "x": 534.3, "y": 420.3}, {"p": "d", "g": "LFD+CR", "x": 527.7, "y": 430}, {"p": "d", "g": "LFD+CR", "x": 533, "y": 432.7}, {"p": "d", "g": "LFD+CR", "x": 540.3, "y": 434.3}, {"p": "d", "g": "LFD+CR", "x": 547.7, "y": 432.3}, {"p": "d", "g": "LFD+CR", "x": 548.3, "y": 431}, {"p": "d", "g": "LFD+CR", "x": 566, "y": 437}, {"p": "d", "g": "LFD+CR", "x": 585, "y": 451.7},
      {"p": "d", "g": "HFD+Ex", "x": 541.7, "y": 489.3},
      {"p": "d", "g": "HFD+CR", "x": 529, "y": 465.7}, {"p": "d", "g": "HFD+CR", "x": 544, "y": 458.7}, {"p": "d", "g": "HFD+CR", "x": 562.3, "y": 473.3}, {"p": "d", "g": "HFD+CR", "x": 578.3, "y": 464}, {"p": "d", "g": "HFD+CR", "x": 582.7, "y": 444.3}, {"p": "d", "g": "HFD+CR", "x": 591.7, "y": 454}, {"p": "d", "g": "HFD+CR", "x": 592.3, "y": 471.7}, {"p": "d", "g": "HFD+CR", "x": 586.7, "y": 480.7}, {"p": "d", "g": "HFD+CR", "x": 593.3, "y": 483.3}, {"p": "d", "g": "HFD+CR", "x": 570, "y": 510}
    ],
    "treelab": [
      {"x": 89.3, "y": 96, "t": "LFD\n(141 wk)"},
      {"x": 65, "y": 125, "t": "LFD+Ex\n(141 wk)"},
      {"x": 43.3, "y": 161.7, "t": "HFD+CR\n(141 wk)"},
      {"x": 49, "y": 198, "t": "HFD+Ex\n(141 wk)"},
      {"x": 70.7, "y": 243.3, "t": "LFD+CR\n(141 wk)"},
      {"x": 196.7, "y": 88.3, "t": "HFD+CR\n(83 wk)"},
      {"x": 224.3, "y": 67.3, "t": "HFD+CR\n(62 wk)"},
      {"x": 255.7, "y": 68.3, "t": "HFD+Ex\n(62 wk)"},
      {"x": 276.7, "y": 83.3, "t": "HFD+Ex\n(83 wk)"},
      {"x": 291, "y": 100.7, "t": "HFD\n(83 wk)"},
      {"x": 289, "y": 124, "t": "HFD\n(62 wk)"},
      {"x": 320, "y": 192, "t": "LFD+CR\n(83 wk)"},
      {"x": 293.3, "y": 224, "t": "LFD+CR\n(62 wk)"},
      {"x": 190, "y": 255, "t": "LFD\n(62 wk)"},
      {"x": 206, "y": 269, "t": "LFD\n(83 wk)"},
      {"x": 230, "y": 277.7, "t": "LFD+Ex\n(62 wk)"},
      {"x": 260.7, "y": 253.3, "t": "LFD+Ex\n(83 wk)"}
    ],
    "txt": [
      {"k": "zt", "x": 410, "y": 78.3, "t": "0.2"}, {"k": "zt", "x": 410, "y": 97.3, "t": "0.1"}, {"k": "zt", "x": 410, "y": 116, "t": "0"}, {"k": "zt", "x": 410, "y": 135, "t": "−0.1"}, {"k": "zt", "x": 410, "y": 153.7, "t": "−0.2"}, {"k": "zt", "x": 410, "y": 172.3, "t": "−0.3"}, {"k": "zt", "x": 410, "y": 190.7, "t": "−0.4"},
      {"k": "zt", "x": 39.3, "y": 397.3, "t": "0.2"}, {"k": "zt", "x": 39.3, "y": 415.7, "t": "0.1"}, {"k": "zt", "x": 39.3, "y": 433.3, "t": "0"}, {"k": "zt", "x": 39.3, "y": 451.7, "t": "−0.1"}, {"k": "zt", "x": 39.3, "y": 469.3, "t": "−0.2"}, {"k": "zt", "x": 39.3, "y": 487.3, "t": "−0.3"}, {"k": "zt", "x": 39.3, "y": 504.5, "t": "−0.4"},
      {"k": "zt", "x": 406.7, "y": 373.3, "t": "0.2"}, {"k": "zt", "x": 406.7, "y": 406, "t": "0.1"}, {"k": "zt", "x": 406.7, "y": 438.3, "t": "0"}, {"k": "zt", "x": 406.7, "y": 470.7, "t": "−0.1"}, {"k": "zt", "x": 406.7, "y": 502.7, "t": "−0.2"},
      {"k": "tk", "x": 409, "y": 204.5, "t": "0.4"}, {"k": "tk", "x": 427.5, "y": 218.8, "t": "0.2"}, {"k": "tk", "x": 452.5, "y": 231, "t": "0"}, {"k": "tk", "x": 467, "y": 242.2, "t": "−0.2"},
      {"k": "tk", "x": 517, "y": 242.2, "t": "0.2"}, {"k": "tk", "x": 547, "y": 236, "t": "0"}, {"k": "tk", "x": 587, "y": 230, "t": "−0.2"},
      {"k": "tk", "x": 31.7, "y": 515.5, "t": "0.5"}, {"k": "tk", "x": 60, "y": 529.3, "t": "0"}, {"k": "tk", "x": 78.3, "y": 545, "t": "−0.5"}, {"k": "tk", "x": 105, "y": 557.3, "t": "−1"},
      {"k": "tk", "x": 145, "y": 553.3, "t": "0.2"}, {"k": "tk", "x": 173.3, "y": 546.7, "t": "0"}, {"k": "tk", "x": 216.7, "y": 538.3, "t": "−0.2"}, {"k": "tk", "x": 248.3, "y": 530, "t": "−0.4"},
      {"k": "tk", "x": 416, "y": 518, "t": "0.2"}, {"k": "tk", "x": 447.5, "y": 533.8, "t": "0"}, {"k": "tk", "x": 472, "y": 553.3, "t": "−0.2"},
      {"k": "tk", "x": 499.3, "y": 553.7, "t": "0.6"}, {"k": "tk", "x": 527, "y": 547, "t": "0.4"}, {"k": "tk", "x": 561.7, "y": 540.3, "t": "0.2"}, {"k": "tk", "x": 588, "y": 535, "t": "0"}, {"k": "tk", "x": 626.7, "y": 529.3, "t": "−0.2"},
      {"k": "az", "x": 380.7, "y": 133, "t": "PC3 (11.6%)"}, {"k": "az", "x": 7.3, "y": 443.3, "t": "PC3 (13.1%)"}, {"k": "az", "x": 380.7, "y": 433.3, "t": "PC3 (7.3%)"},
      {"k": "a1", "x": 424, "y": 236, "t": "PC1 (35.1%)"}, {"k": "a1", "x": 56.7, "y": 549, "t": "PC1 (39.1%)"}, {"k": "a1", "x": 428.3, "y": 545, "t": "PC1 (49.4%)"},
      {"k": "a2", "x": 562, "y": 245, "t": "PC2 (23.3%)"}, {"k": "a2", "x": 197, "y": 555, "t": "PC2 (21.4%)"}, {"k": "a2", "x": 569.3, "y": 551.7, "t": "PC2 (14.1%)"},
      {"k": "wk", "x": 576.7, "y": 51.7, "t": "62 weeks"}, {"k": "wk", "x": 203.3, "y": 357.3, "t": "83 weeks"}, {"k": "wk", "x": 588.3, "y": 357.3, "t": "141 weeks"},
      {"k": "lt", "x": 5, "y": 6.7, "t": "a"}, {"k": "lt", "x": 375, "y": 8.3, "t": "b"}, {"k": "lt", "x": 5, "y": 350.7, "t": "c"}, {"k": "lt", "x": 376, "y": 351.7, "t": "d"}
    ]
  }
}
